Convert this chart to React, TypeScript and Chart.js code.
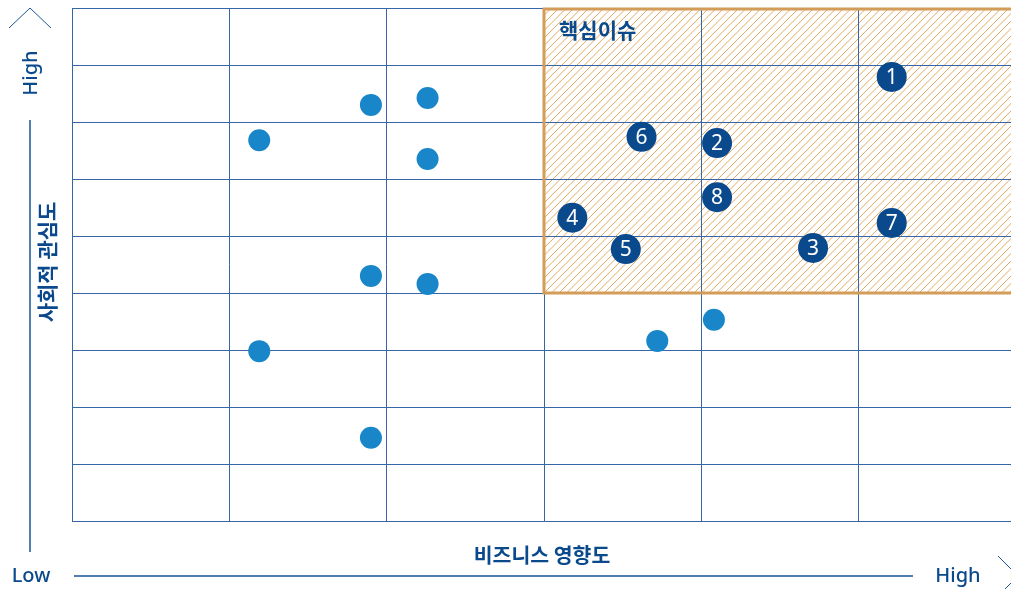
import React, { useEffect, useRef } from "react";
import { Chart, registerables } from "chart.js";

Chart.register(...registerables);

// Axis ranges (grid cells)
const xCells = 6;
const yCells = 9;

// Other issues (light blue dots): [business impact, social interest]
const otherX = [1.19, 1.9, 2.26, 2.26, 1.9, 2.26, 1.19, 1.9, 3.72, 4.08];
const otherY = [6.68, 7.3, 7.42, 6.35, 4.3, 4.16, 2.98, 1.46, 3.16, 3.53];

// Numbered key issues
const keyLabels = ["1", "2", "3", "4", "5", "6", "7", "8"];
const keyX = [5.21, 4.1, 4.71, 3.18, 3.52, 3.62, 5.21, 4.1];
const keyY = [7.79, 6.63, 4.79, 5.32, 4.77, 6.74, 5.23, 5.68];

// Core-issue zone
const zoneX = [3, 6];
const zoneY = [4, 9];
const zoneTitle = "핵심이슈";

const xTitle = "비즈니스 영향도";
const yTitle = "사회적 관심도";
const lowLabel = "Low";
const highLabel = "High";

const DARK = "#0a4a8c";
const LIGHT = "#1886c8";
const GRID = "#3766a8";
const ORANGE = "#d39c58";

export default function App() {
  const ref = useRef<HTMLCanvasElement | null>(null);

  useEffect(() => {
    const canvas = ref.current!;
    const zonePlugin = {
      id: "zone",
      beforeDraw(chart: any) {
        const { ctx, scales } = chart;
        const x0 = scales.x.getPixelForValue(zoneX[0]);
        const x1 = scales.x.getPixelForValue(zoneX[1]);
        const y0 = scales.y.getPixelForValue(zoneY[1]);
        const y1 = scales.y.getPixelForValue(zoneY[0]);
        ctx.save();
        ctx.beginPath();
        ctx.rect(x0, y0, x1 - x0, y1 - y0);
        ctx.clip();
        ctx.strokeStyle = "#e3a862";
        ctx.lineWidth = 1;
        const h = y1 - y0;
        for (let sx = x0 - h; sx < x1 + h; sx += 7.5) {
          ctx.beginPath();
          ctx.moveTo(sx, y1);
          ctx.lineTo(sx + h, y0);
          ctx.stroke();
        }
        ctx.restore();
      },
      beforeDatasetsDraw(chart: any) {
        const { ctx, scales } = chart;
        const x0 = scales.x.getPixelForValue(zoneX[0]);
        const x1 = scales.x.getPixelForValue(zoneX[1]);
        const y0 = scales.y.getPixelForValue(zoneY[1]);
        const y1 = scales.y.getPixelForValue(zoneY[0]);
        ctx.save();
        ctx.strokeStyle = ORANGE;
        ctx.lineWidth = 3;
        ctx.strokeRect(x0, y0 + 1, x1 - x0, y1 - y0 - 1);
        ctx.fillStyle = DARK;
        ctx.font = "bold 21px 'Noto Sans CJK KR'";
        ctx.textBaseline = "middle";
        ctx.textAlign = "left";
        ctx.fillText(zoneTitle, x0 + 15, y0 + 22);
        ctx.restore();
      },
      afterDatasetsDraw(chart: any) {
        const { ctx } = chart;
        const meta = chart.getDatasetMeta(1);
        ctx.save();
        ctx.fillStyle = "#ffffff";
        ctx.font = "21px 'Noto Sans'";
        ctx.textAlign = "center";
        ctx.textBaseline = "middle";
        meta.data.forEach((pt: any, i: number) => {
          ctx.fillText(keyLabels[i], pt.x, pt.y + 1);
        });
        ctx.restore();
      },
      afterDraw(chart: any) {
        const { ctx } = chart;
        ctx.save();
        ctx.strokeStyle = "#1a5596";
        ctx.lineWidth = 1.5;
        // vertical axis line & arrow
        ctx.beginPath();
        ctx.moveTo(30, 120);
        ctx.lineTo(30, 552);
        ctx.stroke();
        ctx.lineWidth = 1;
        ctx.beginPath();
        ctx.moveTo(9, 28);
        ctx.lineTo(30, 8);
        ctx.lineTo(51, 28);
        ctx.stroke();
        // horizontal axis line & arrow
        ctx.lineWidth = 1.5;
        ctx.beginPath();
        ctx.moveTo(74, 576);
        ctx.lineTo(913, 576);
        ctx.stroke();
        ctx.lineWidth = 1;
        ctx.beginPath();
        ctx.moveTo(998, 556);
        ctx.lineTo(1018, 576);
        ctx.lineTo(998, 596);
        ctx.stroke();

        ctx.fillStyle = DARK;
        ctx.textAlign = "center";
        ctx.textBaseline = "middle";
        ctx.font = "500 20px 'Noto Sans'";
        ctx.fillText(lowLabel, 31, 576);
        ctx.fillText(highLabel, 958, 576);
        ctx.font = "bold 20.5px 'Noto Sans CJK KR'";
        ctx.fillText(xTitle, 542, 555);

        ctx.save();
        ctx.translate(31, 73);
        ctx.rotate(-Math.PI / 2);
        ctx.font = "500 20px 'Noto Sans'";
        ctx.fillText(highLabel, 0, 0);
        ctx.restore();

        ctx.save();
        ctx.translate(47, 262);
        ctx.rotate(-Math.PI / 2);
        ctx.font = "bold 21px 'Noto Sans CJK KR'";
        ctx.fillText(yTitle, 0, 0);
        ctx.restore();
        ctx.restore();
      },
    };

    const chart = new Chart(canvas, {
      type: "scatter",
      data: {
        datasets: [
          {
            data: otherX.map((x, i) => ({ x, y: otherY[i] })),
            backgroundColor: LIGHT,
            borderWidth: 0,
            pointRadius: 11,
          },
          {
            data: keyX.map((x, i) => ({ x, y: keyY[i] })),
            backgroundColor: DARK,
            borderWidth: 0,
            pointRadius: 15,
          },
        ],
      },
      options: {
        responsive: false,
        animation: false,
        events: [],
        layout: { autoPadding: false, padding: { left: 72, top: 8, right: 0, bottom: 68 } },
        plugins: { legend: { display: false }, tooltip: { enabled: false } },
        scales: {
          x: {
            type: "linear",
            min: 0,
            max: xCells,
            ticks: { display: false, stepSize: 1 },
            grid: { color: GRID, lineWidth: 1, drawTicks: false },
            border: { color: GRID, width: 1 },
          },
          y: {
            type: "linear",
            min: 0,
            max: yCells,
            ticks: { display: false, stepSize: 1 },
            grid: { color: GRID, lineWidth: 1, drawTicks: false },
            border: { color: GRID, width: 1 },
          },
        },
      },
      plugins: [zonePlugin],
    });
    return () => chart.destroy();
  }, []);

  return (
    <div
      style={{
        position: "fixed",
        left: 0,
        top: 0,
        width: 1011,
        height: 589,
        overflow: "hidden",
        background: "#fff",
      }}
    >
      <canvas ref={ref} width={1016} height={589} />
    </div>
  );
}
